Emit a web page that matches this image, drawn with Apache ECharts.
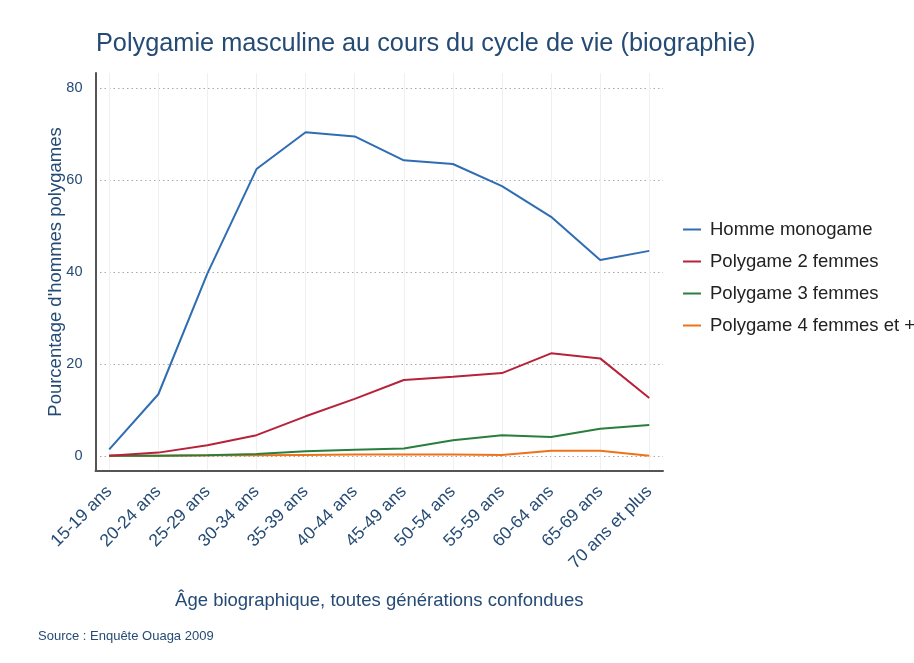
<!DOCTYPE html>
<html><head><meta charset="utf-8">
<script src="https://cdn.jsdelivr.net/npm/echarts@6/dist/echarts.min.js"></script>
<style>html,body{margin:0;padding:0;background:#fff}#c{width:914px;height:663px}</style>
</head><body><div id="c"></div>
<script>
var categories = ["15-19 ans","20-24 ans","25-29 ans","30-34 ans","35-39 ans","40-44 ans","45-49 ans","50-54 ans","55-59 ans","60-64 ans","65-69 ans","70 ans et plus"];
var hommeMonogame = [1.4, 13.4, 39.7, 62.4, 70.4, 69.5, 64.3, 63.5, 58.7, 52.0, 42.6, 44.6];
var polygame2 = [0, 0.7, 2.3, 4.5, 8.6, 12.4, 16.5, 17.2, 18.0, 22.3, 21.2, 12.6];
var polygame3 = [0, 0, 0.1, 0.4, 1.0, 1.3, 1.6, 3.4, 4.5, 4.1, 5.9, 6.7];
var polygame4 = [0, 0, 0.1, 0.1, 0.2, 0.3, 0.3, 0.3, 0.2, 1.1, 1.1, 0];
var yTicks = [0, 20, 40, 60, 80];
var seriesNames = ["Homme monogame","Polygame 2 femmes","Polygame 3 femmes","Polygame 4 femmes et +"];
var colors = ["#2f6db3","#b7223a","#2a7e3d","#ee7318"];

var textBlue = "#254b75";
var font = "Liberation Sans, Arial, Helvetica, sans-serif";
var catIdx = categories.map(function(_, i){ return i; });
function pairs(arr){ return arr.map(function(v, i){ return [i, v]; }); }
var allData = [hommeMonogame, polygame2, polygame3, polygame4];

var chart = echarts.init(document.getElementById('c'), null, {renderer: 'canvas'});
chart.setOption({
  backgroundColor: '#fff',
  animation: false,
  textStyle: {fontFamily: font},
  title: [
    {text: "Polygamie masculine au cours du cycle de vie (biographie)", left: 91, top: 27,
     textStyle: {fontFamily: font, fontSize: 25.3, fontWeight: 'normal', color: textBlue}},
    {text: "Source : Enquête Ouaga 2009", left: 33, top: 625,
     textStyle: {fontFamily: font, fontSize: 13, fontWeight: 'normal', color: textBlue}}
  ],
  legend: {
    orient: 'vertical', left: 678, top: 215, itemGap: 13, itemWidth: 18, itemHeight: 2,
    icon: 'rect',
    textStyle: {fontFamily: font, fontSize: 18.5, color: '#222', padding: [0,0,0,4]},
    data: seriesNames
  },
  grid: {left: 95.5, right: 251, top: 73, bottom: 192, containLabel: false},
  xAxis: {
    type: 'value', min: -0.28, max: 11.28,
    axisLine: {show: true, onZero: false, lineStyle: {color: '#555', width: 2}},
    axisTick: {show: false, customValues: catIdx},
    axisLabel: {customValues: catIdx, rotate: 45, margin: 18, fontSize: 17.5, color: textBlue, fontFamily: font,
      formatter: function(v){ return categories[Math.round(v)]; }},
    splitLine: {show: true, customValues: catIdx, lineStyle: {color: '#f0f0f0', width: 1}},
    name: "Âge biographique, toutes générations confondues",
    nameLocation: 'middle', nameGap: 120,
    nameTextStyle: {fontFamily: font, fontSize: 18.5, color: textBlue}
  },
  yAxis: {
    type: 'value', min: -3.3, max: 83.3,
    axisLine: {show: true, onZero: false, lineStyle: {color: '#555', width: 2}},
    axisTick: {show: false, customValues: yTicks},
    axisLabel: {customValues: yTicks, fontSize: 14.5, color: textBlue, margin: 13, fontFamily: font},
    splitLine: {show: true, customValues: yTicks, lineStyle: {color: '#aaa', type: [1.5, 3], width: 1}},
    name: "Pourcentage d'hommes polygames",
    nameLocation: 'middle', nameGap: 30, nameMoveOverlap: false,
    nameTextStyle: {fontFamily: font, fontSize: 18.5, color: textBlue}
  },
  series: allData.map(function(d, k){
    return {
      name: seriesNames[k], type: 'line', data: pairs(d),
      symbol: 'none', lineStyle: {width: 2, color: colors[k]}, itemStyle: {color: colors[k]},
      z: 10 - k
    };
  })
});
</script></body></html>
